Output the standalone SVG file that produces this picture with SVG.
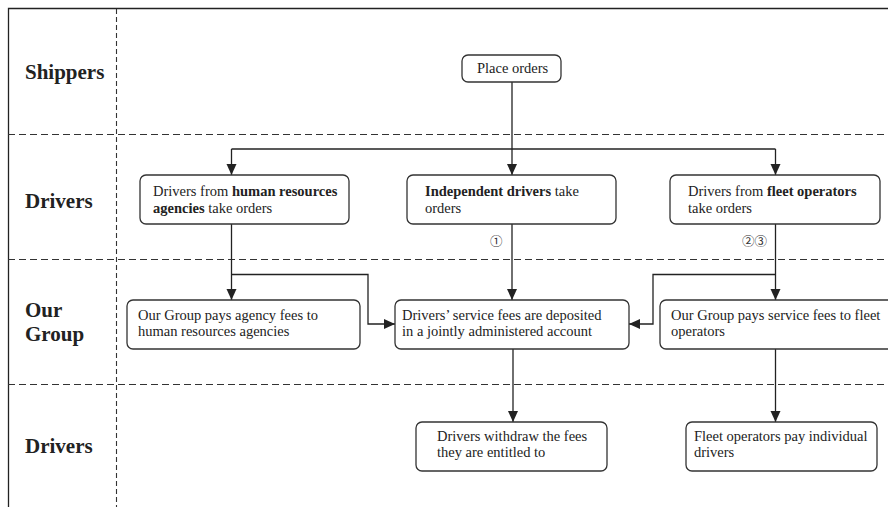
<svg xmlns="http://www.w3.org/2000/svg" width="888" height="507" viewBox="0 0 888 507">
<style>
.lane{font-family:"Liberation Serif","Times New Roman",serif;font-weight:bold;font-size:21px;fill:#222}
.t{font-family:"Liberation Serif","Times New Roman",serif;font-size:14.5px;fill:#222}
.b{font-weight:bold}
.box{fill:#fff;stroke:#333;stroke-width:1.3}
.dash{stroke:#333;stroke-width:1.1;stroke-dasharray:7 4;fill:none}
.vdash{stroke:#333;stroke-width:1.1;stroke-dasharray:5 3;fill:none}
.frame{stroke:#222;stroke-width:1.3;fill:none}
.c{stroke:#222;stroke-width:1.3;fill:none}
.num{font-family:"Noto Sans CJK SC","DejaVu Sans",sans-serif;font-size:12.5px;fill:#333}
</style>
<defs>
<marker id="ah" markerUnits="userSpaceOnUse" markerWidth="12" markerHeight="11" refX="11" refY="5" orient="auto">
<path d="M0,0 L11,5 L0,10 z" fill="#222"/>
</marker>
</defs>
<rect width="888" height="507" fill="#fff"/>
<g id="frame">
<path class="frame" d="M8.5,507 V8.5 H888"/>
<path class="vdash" d="M116.5,9 V507"/>
<path class="dash" d="M8,134.5 H888 M8,259.5 H888 M8,384.5 H888"/>
<text class="lane" x="25" y="79">Shippers</text>
<text class="lane" x="25" y="208">Drivers</text>
<text class="lane" x="25" y="317">Our</text>
<text class="lane" x="25" y="341">Group</text>
<text class="lane" x="25" y="453">Drivers</text>
</g>
<g id="connectors">
<path class="c" d="M512,82 V149"/>
<path class="c" d="M231.5,149 H775.5"/>
<path class="c" d="M231.5,149 V175" marker-end="url(#ah)"/>
<path class="c" d="M512,149 V175" marker-end="url(#ah)"/>
<path class="c" d="M775.5,149 V175" marker-end="url(#ah)"/>
<path class="c" d="M231.5,224 V300" marker-end="url(#ah)"/>
<path class="c" d="M231.5,274.5 H368 V324 H395" marker-end="url(#ah)"/>
<path class="c" d="M512,224 V300" marker-end="url(#ah)"/>
<path class="c" d="M775.5,224 V300" marker-end="url(#ah)"/>
<path class="c" d="M775.5,274.5 H653 V324 H629" marker-end="url(#ah)"/>
<path class="c" d="M513,349 V422" marker-end="url(#ah)"/>
<path class="c" d="M775.5,349 V422" marker-end="url(#ah)"/>
<text class="num" x="490" y="246">①</text>
<text class="num" x="742" y="246">②③</text>
</g>
<g id="place-orders">
<rect class="box" x="462" y="55" width="99" height="27" rx="6"/>
<text class="t" x="477" y="73">Place orders</text>
</g>
<g id="hr-drivers">
<rect class="box" x="140" y="175" width="209" height="49" rx="6"/>
<text class="t" x="153" y="196">Drivers from <tspan class="b">human resources</tspan></text>
<text class="t" x="153" y="213"><tspan class="b">agencies</tspan> take orders</text>
</g>
<g id="independent-drivers">
<rect class="box" x="407" y="175" width="209" height="49" rx="6"/>
<text class="t" x="425" y="196"><tspan class="b">Independent drivers</tspan> take</text>
<text class="t" x="425" y="213">orders</text>
</g>
<g id="fleet-drivers">
<rect class="box" x="670" y="175" width="210" height="49" rx="6"/>
<text class="t" x="688" y="196">Drivers from <tspan class="b">fleet operators</tspan></text>
<text class="t" x="688" y="213">take orders</text>
</g>
<g id="agency-fees">
<rect class="box" x="127" y="300" width="233" height="49" rx="6"/>
<text class="t" x="138" y="320">Our Group pays agency fees to</text>
<text class="t" x="138" y="336">human resources agencies</text>
</g>
<g id="joint-account">
<rect class="box" x="395" y="300" width="234" height="49" rx="6"/>
<text class="t" x="402" y="320">Drivers’ service fees are deposited</text>
<text class="t" x="402" y="336">in a jointly administered account</text>
</g>
<g id="fleet-fees">
<rect class="box" x="660" y="300" width="240" height="49" rx="6"/>
<text class="t" x="671" y="320">Our Group pays service fees to fleet</text>
<text class="t" x="671" y="336">operators</text>
</g>
<g id="withdraw">
<rect class="box" x="416" y="422" width="191" height="49" rx="6"/>
<text class="t" x="437" y="441">Drivers withdraw the fees</text>
<text class="t" x="437" y="457">they are entitled to</text>
</g>
<g id="fleet-pay">
<rect class="box" x="686" y="422" width="191" height="49" rx="6"/>
<text class="t" x="694" y="441">Fleet operators pay individual</text>
<text class="t" x="694" y="457">drivers</text>
</g>
</svg>
